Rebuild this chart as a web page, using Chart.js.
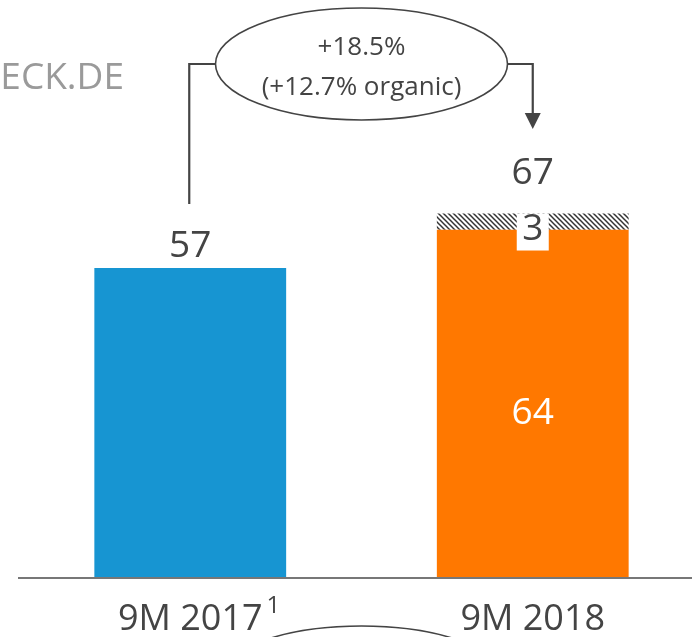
<!DOCTYPE html>
<html lang="en">
<head>
    <meta charset="UTF-8">
    <title>9M 2017 vs 9M 2018</title>
    <script src="https://cdn.jsdelivr.net/npm/chart.js"></script>
    <style>
        html, body {
            margin: 0;
            padding: 0;
            background: #fff;
            overflow: hidden;
        }
        #wrap {
            width: 704px;
            height: 637px;
        }
    </style>
</head>
<body>
    <div id="wrap">
        <canvas id="salesChart" width="704" height="637"></canvas>
    </div>

    <script>
        const categories = ['9M 2017', '9M 2018'];
        const footnotes = ['1', ''];
        const baseValues = [57, 64];
        const acquisitionValues = [null, 3];
        const growthLines = ['+18.5%', '(+12.7% organic)'];
        const sourceText = 'ECK.DE';

        const barColors = ['#1795d2', '#ff7800'];
        const textColor = '#444';

        // hatch for the acquired part on top of the 2018 bar
        function makeHatch() {
            const s = 5;
            const c = document.createElement('canvas');
            c.width = s;
            c.height = s;
            const g = c.getContext('2d');
            g.fillStyle = '#fff';
            g.fillRect(0, 0, s, s);
            g.strokeStyle = '#333';
            g.lineWidth = 1.5;
            for (let o = -s; o <= s; o += s) {
                g.beginPath();
                g.moveTo(o - 1, -1);
                g.lineTo(o + s + 1, s + 1);
                g.stroke();
            }
            return g.createPattern(c, 'repeat');
        }

        const totals = baseValues.map((v, i) => v + (acquisitionValues[i] || 0));

        const annotations = {
            id: 'annotations',
            afterDatasetsDraw(chart) {
                const ctx = chart.ctx;
                const x = chart.scales.x;
                const y = chart.scales.y;
                const area = chart.chartArea;
                const x0 = x.getPixelForValue(0);
                const x1 = x.getPixelForValue(1);
                const mid = (x0 + x1) / 2;

                ctx.save();

                // base line
                ctx.strokeStyle = '#777';
                ctx.lineWidth = 2;
                ctx.beginPath();
                ctx.moveTo(18, area.bottom);
                ctx.lineTo(chart.width, area.bottom);
                ctx.stroke();

                ctx.font = '37px "Open Sans"';
                ctx.textAlign = 'center';
                ctx.textBaseline = 'alphabetic';

                // white box + label for the acquired part
                const topAcq = y.getPixelForValue(totals[1]);
                ctx.fillStyle = '#fff';
                ctx.fillRect(x1 - 16, topAcq, 32, 37);
                ctx.fillStyle = textColor;
                ctx.fillText(String(acquisitionValues[1]), x1, topAcq + 26);

                // label inside the orange bar
                const baseTop = y.getPixelForValue(baseValues[1]);
                ctx.fillStyle = '#fff';
                ctx.fillText(String(baseValues[1]), x1, (baseTop + area.bottom) / 2 + 20);

                // totals above the bars
                ctx.fillStyle = textColor;
                ctx.fillText(String(totals[0]), x0, y.getPixelForValue(totals[0]) - 11);
                ctx.fillText(String(totals[1]), x1, y.getPixelForValue(totals[1]) - 30);

                // category labels
                ctx.font = '36px "Open Sans"';
                categories.forEach((c, i) => {
                    const px = x.getPixelForValue(i);
                    ctx.textAlign = 'center';
                    ctx.fillText(c, px, 630);
                    if (footnotes[i]) {
                        const w = ctx.measureText(c).width;
                        ctx.font = '24px "Open Sans"';
                        ctx.textAlign = 'left';
                        ctx.fillText(footnotes[i], px + w / 2 + 4, 613);
                        ctx.font = '36px "Open Sans"';
                    }
                });

                // growth ellipse and connector
                const ey = 64, rx = 146, ry = 56;
                ctx.strokeStyle = textColor;
                ctx.lineWidth = 1.6;
                ctx.beginPath();
                ctx.ellipse(mid, ey, rx, ry, 0, 0, Math.PI * 2);
                ctx.stroke();
                ctx.beginPath();
                ctx.ellipse(mid, 682, rx, ry, 0, 0, Math.PI * 2);
                ctx.stroke();

                ctx.lineWidth = 2.2;
                ctx.beginPath();
                ctx.moveTo(x0 - 1, y.getPixelForValue(totals[0]) - 64);
                ctx.lineTo(x0 - 1, ey);
                ctx.lineTo(mid - rx, ey);
                ctx.moveTo(mid + rx, ey);
                ctx.lineTo(x1, ey);
                ctx.lineTo(x1, 114);
                ctx.stroke();
                ctx.fillStyle = textColor;
                ctx.beginPath();
                ctx.moveTo(x1 - 8, 113);
                ctx.lineTo(x1 + 8, 113);
                ctx.lineTo(x1, 129);
                ctx.closePath();
                ctx.fill();

                ctx.font = '26px "Open Sans"';
                ctx.textAlign = 'center';
                ctx.fillText(growthLines[0], mid, 55);
                ctx.fillText(growthLines[1], mid, 95);

                // cut-off source text at the left
                ctx.fillStyle = '#9a9a9a';
                ctx.font = '37px "Open Sans"';
                ctx.textAlign = 'right';
                ctx.fillText(sourceText, 124, 89);

                ctx.restore();
            }
        };

        const ctx = document.getElementById('salesChart').getContext('2d');
        new Chart(ctx, {
            type: 'bar',
            data: {
                labels: categories,
                datasets: [{
                    label: 'Sales',
                    data: baseValues,
                    backgroundColor: barColors,
                    borderWidth: 0
                }, {
                    label: 'Acquisitions',
                    data: acquisitionValues,
                    backgroundColor: makeHatch(),
                    borderWidth: 0
                }]
            },
            options: {
                responsive: false,
                animation: false,
                events: [],
                layout: {
                    padding: { left: 19, right: 0, top: 34, bottom: 59 }
                },
                datasets: {
                    bar: {
                        categoryPercentage: 1,
                        barPercentage: 0.56
                    }
                },
                plugins: {
                    legend: { display: false },
                    tooltip: { enabled: false }
                },
                scales: {
                    x: {
                        display: false,
                        stacked: true
                    },
                    y: {
                        display: false,
                        stacked: true,
                        min: 0,
                        max: 100
                    }
                }
            },
            plugins: [annotations]
        });
    </script>
</body>
</html>
